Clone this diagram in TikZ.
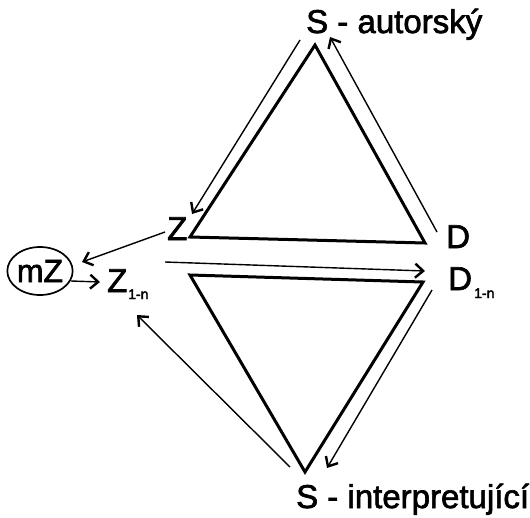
\documentclass[tikz,border=0pt]{standalone}
\usepackage{fontspec}
\setmainfont{Liberation Sans}[FakeBold=2]
\newfontfamily\subfont{Liberation Sans}[FakeBold=2.8]
\usetikzlibrary{arrows.meta,shapes.geometric}
\tikzset{
  tri/.style={line width=3pt, line join=miter},
  thin/.style={line width=1.4pt, -{Straight Barb[length=8pt,width=14pt,line width=2.4pt]}},
  big/.style={font=\fontsize{33}{36}\selectfont, inner sep=0pt, anchor=base west},
  sub/.style={font=\subfont\fontsize{14}{15}\selectfont, inner sep=0pt, anchor=base west},
}
\begin{document}
\begin{tikzpicture}[x=1pt,y=-1pt]
\useasboundingbox (0,0) rectangle (530,517);
% labels
\node[big] (Sa) at (306,33) {S - autorský};
\node[big] (Z) at (167,240) {Z};
\node[big] (D) at (446,248) {D};
\node[big] (Dn) at (448,290) {D};
\node[sub] (Dnsub) at (474,298) {1-n};
\node[big] (Zn) at (107,292) {Z};
\node[sub] (Znsub) at (128,299) {1-n};
\node[big] (Si) at (296,508) {S - interpretující};
\node[draw, ellipse, line width=1.7pt, minimum width=62pt, minimum height=48pt, inner sep=0pt,
      font=\fontsize{32}{34}\selectfont] (mZ) at (40,271) {mZ};
% upper triangle
\coordinate (uA) at (315,45);
\coordinate (uL) at (190,237);
\coordinate (uR) at (425,243);
\draw[tri] (uA) -- (uL) -- (uR) -- cycle;
% lower triangle
\coordinate (lL) at (190,275);
\coordinate (lR) at (423,282);
\coordinate (lB) at (305,472);
\draw[tri] (lL) -- (lR) -- (lB) -- cycle;
% thin arrows
\coordinate (a1s) at (300,40);  \coordinate (a1e) at (192,214);
\coordinate (a2s) at (437,232); \coordinate (a2e) at (330,37);
\coordinate (a3s) at (165,232); \coordinate (a3e) at (82,262);
\coordinate (a4s) at (71,281);  \coordinate (a4e) at (100,282);
\coordinate (a5s) at (165,262); \coordinate (a5e) at (425,271);
\coordinate (a6s) at (432,290); \coordinate (a6e) at (327,468);
\coordinate (a7s) at (290,467); \coordinate (a7e) at (137,315);
\draw[thin] (a1s) -- (a1e);
\draw[thin] (a2s) -- (a2e);
\draw[thin] (a3s) -- (a3e);
\draw[thin] (a4s) -- (a4e);
\draw[thin] (a5s) -- (a5e);
\draw[thin] (a6s) -- (a6e);
\draw[thin] (a7s) -- (a7e);
\end{tikzpicture}
\end{document}
